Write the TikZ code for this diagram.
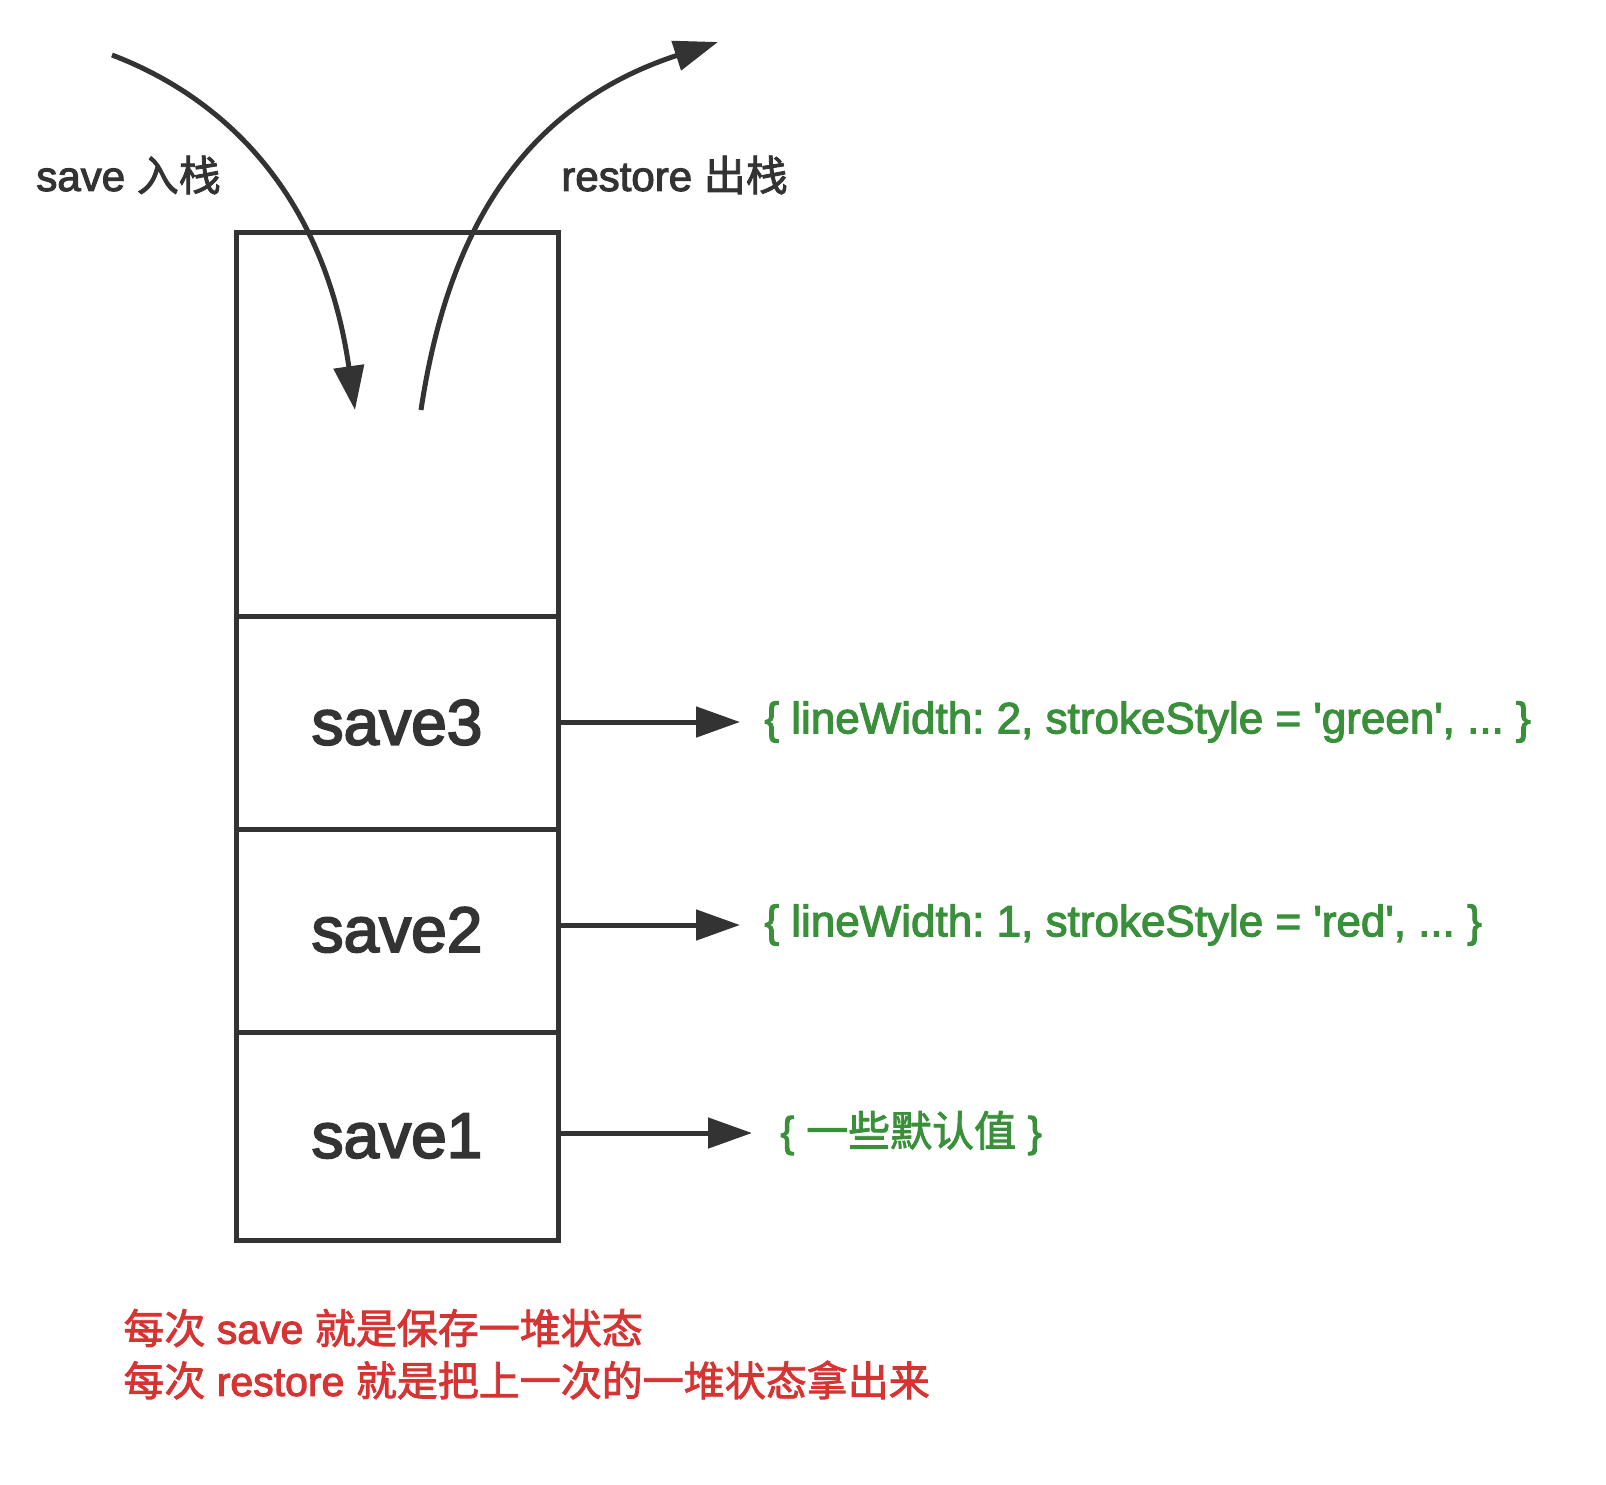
\documentclass[tikz,border=0pt]{standalone}
\usepackage{fontspec}
\setmainfont{Liberation Sans}
\newfontfamily\med{Liberation Sans}[FakeBold=2.5]
\newfontfamily\cellfont{Liberation Sans}[FakeBold=3]
\newfontfamily\cjk{Noto Sans CJK SC}[FakeBold=2]
\usetikzlibrary{arrows.meta}
\definecolor{ink}{HTML}{333333}
\definecolor{grn}{HTML}{3A8F3A}
\definecolor{rd}{HTML}{D63333}
\newcommand{\q}{\textquotesingle}
\frenchspacing
\tikzset{
  cell/.style={draw=ink, line width=2.5pt, minimum width=161pt, inner sep=0pt, text=ink, font=\fontsize{32}{38}\selectfont\cellfont},
  arr/.style={draw=ink, line width=2.5pt, -{Triangle[length=22pt,width=15pt]}},
  stateinfo/.style={text=grn, anchor=west, inner xsep=12pt, font=\fontsize{22}{26}\selectfont\med},
  toplabel/.style={text=ink, anchor=west, inner sep=0pt, font=\fontsize{21}{25}\selectfont\med},
  note/.style={text=rd, anchor=west, inner sep=0pt, font=\fontsize{20.5}{25}\selectfont\med},
}
\begin{document}
\begin{tikzpicture}[x=0.5pt,y=-0.5pt]
\useasboundingbox (0,0) rectangle (1606,1484);
% stack cells
\node[cell, minimum height=192pt] (c4) at (397,424) {};
\node[cell, minimum height=106.5pt] (c3) at (397,722.5) {\raisebox{-2pt}{save3}};
\node[cell, minimum height=101.5pt] (c2) at (397,930.5) {\raisebox{1pt}{save2}};
\node[cell, minimum height=104pt] (c1) at (397,1136) {save1};
% state texts
\node[stateinfo] (t3) at (740,722) {\{ lineWidth: 2, strokeStyle = \q green\q, ... \}};
\node[stateinfo] (t2) at (740,925) {\{ lineWidth: 1, strokeStyle = \q red\q, ... \}};
\node[stateinfo, font=\fontsize{21}{25}\selectfont\med, inner xsep=14pt] (t1) at (752,1133) {\{ {\cjk 一些默认值} \}};
\draw[arr] (c3.east |- t3.west) -- (t3.west);
\draw[arr] (c2.east |- t2.west) -- (t2.west);
\draw[arr] (c1.east |- t1.west) -- (t1.west);
% push / pop arrows
\coordinate (sin) at (112,55);
\coordinate (sintip) at (355,410);
\coordinate (rout) at (421,410);
\coordinate (routtip) at (718,42);
\draw[arr] (sin) .. controls (230,100) and (325,200) .. (sintip);
\draw[arr] (rout) .. controls (445,250) and (510,110) .. (routtip);
\node[toplabel] (lsave) at (36,175) {save {\cjk 入栈}};
\node[toplabel] (lrest) at (561,175) {restore {\cjk 出栈}};
% notes
\node[note] (n1) at (123,1328) {{\cjk 每次} save {\cjk 就是保存一堆状态}};
\node[note] (n2) at (123,1380) {{\cjk 每次} restore {\cjk 就是把上一次的一堆状态拿出来}};
\end{tikzpicture}
\end{document}
